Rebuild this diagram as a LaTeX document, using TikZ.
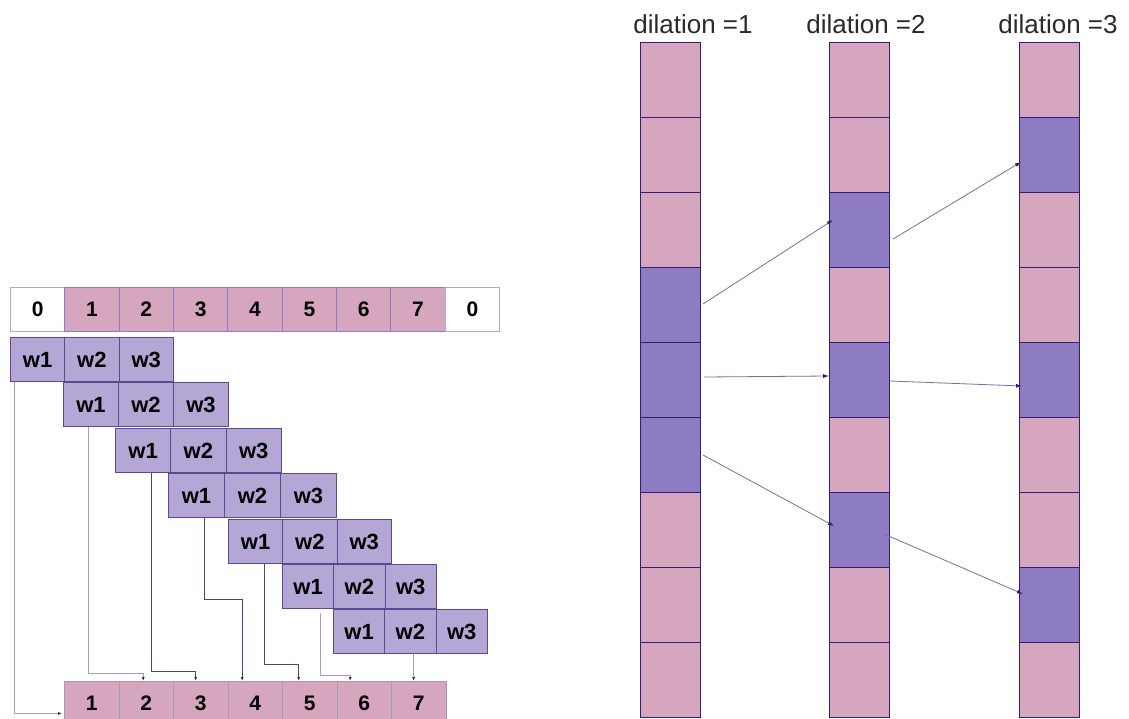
\documentclass[tikz,border=0pt]{standalone}
\usepackage{fontspec}
\setmainfont{Liberation Sans}
\usetikzlibrary{arrows.meta}
\definecolor{pinkc}{HTML}{D5A6BD}
\definecolor{lpur}{HTML}{B4A7D6}
\definecolor{mpur}{HTML}{8E7CC3}
\definecolor{dpur}{HTML}{351C75}
\definecolor{gline}{HTML}{A0A0A0}
\definecolor{txtg}{HTML}{2A2A2A}
\begin{document}
\begin{tikzpicture}[x=1pt,y=-1pt,
  cellbase/.style={inner sep=0pt, anchor=north west, line width=0.9pt},
  topcell/.style={cellbase, draw=mpur, fill=pinkc, minimum width=54.35pt, minimum height=44pt, font=\fontsize{21}{21}\selectfont\bfseries},
  zerocell/.style={topcell, fill=white, draw=lpur},
  wcell/.style={cellbase, draw=dpur!80, fill=lpur, minimum height=44pt, font=\fontsize{22}{22}\selectfont\bfseries},
  bcell/.style={cellbase, draw=gline, fill=pinkc, minimum width=54.5pt, minimum height=44pt, font=\fontsize{21}{21}\selectfont\bfseries},
  colcell/.style={cellbase, draw=dpur, line width=1pt, minimum width=60pt, minimum height=75pt},
  dlabel/.style={font=\fontsize{26}{26}\selectfont, text=txtg, inner sep=0pt},
  lconn/.style={draw=lpur!90!dpur, line width=0.8pt, -{Latex[length=4pt,width=3pt,color=dpur]}},
  dconn/.style={draw=dpur!85, line width=0.8pt, -{Latex[length=4pt,width=3pt,color=dpur]}},
  rarrow/.style={draw=dpur!65, line width=0.8pt, -{Latex[length=6pt,width=4pt,color=dpur]}}
]
\useasboundingbox (0,0) rectangle (1129,719);
\fill[white] (0,0) rectangle (1129,719);

% ---------- left: padded input row ----------
\node[zerocell] (t0) at (10,287) {0};
\foreach \i in {1,...,7} {
  \node[topcell] (t\i) at ({10+54.35*\i},287) {\i};
}
\node[zerocell] (t8) at ({10+54.35*8},287) {0};

% ---------- kernel rows ----------
\foreach \r/\xl/\cw/\yt in {1/10/54.3/337, 2/63/55/382, 3/115/55.3/428, 4/168/56/473, 5/228/54.3/519, 6/282/51.3/564, 7/333/51.3/609} {
  \foreach \c in {1,2,3} {
    \node[wcell, minimum width=\cw pt] (r\r-\c) at ({\xl+(\c-1)*\cw},\yt) {w\c};
  }
}

% ---------- output row ----------
\foreach \i in {1,...,7} {
  \node[bcell] (b\i) at ({64+54.5*(\i-1)},681) {\i};
}

% ---------- left connectors ----------
\draw[lconn] ([xshift=4pt]r1-1.south west) |- ([xshift=-2pt,yshift=-10pt]b1.west);
\draw[lconn] ([xshift=-2.5pt]r2-1.south) |- ([xshift=-3pt,yshift=8pt]b2.north) -- ([xshift=-3pt]b2.north);
\draw[dconn] ([xshift=8.3pt]r3-1.south) |- ([xshift=-5pt,yshift=10pt]b3.north) -- ([xshift=-5pt]b3.north);
\draw[dconn] ([xshift=8pt]r4-1.south) |- ([xshift=-13pt,yshift=82pt]b4.north) -- ([xshift=-13pt]b4.north);
\draw[dconn] ([xshift=9pt]r5-1.south) |- ([xshift=-11pt,yshift=17pt]b5.north) -- ([xshift=-11pt]b5.north);
\draw[lconn] ([xshift=12pt,yshift=-4pt]r6-1.south) |- ([xshift=-14pt,yshift=6pt]b6.north) -- ([xshift=-14pt]b6.north);
\draw[lconn] ([xshift=3pt]r7-2.south) -- ([xshift=-5pt]b7.north);

% ---------- right: dilation columns ----------
\foreach \k/\f in {0/pinkc,1/pinkc,2/pinkc,3/mpur,4/mpur,5/mpur,6/pinkc,7/pinkc,8/pinkc} {
  \node[colcell, fill=\f] (a\k) at (640,{42+75*\k}) {};
}
\foreach \k/\f in {0/pinkc,1/pinkc,2/mpur,3/pinkc,4/mpur,5/pinkc,6/mpur,7/pinkc,8/pinkc} {
  \node[colcell, fill=\f] (m\k) at (829,{42+75*\k}) {};
}
\foreach \k/\f in {0/pinkc,1/mpur,2/pinkc,3/pinkc,4/mpur,5/pinkc,6/pinkc,7/mpur,8/pinkc} {
  \node[colcell, fill=\f] (c\k) at (1019,{42+75*\k}) {};
}

\node[dlabel] (L1) at (693,24) {dilation =1};
\node[dlabel] (L2) at (866,24) {dilation =2};
\node[dlabel] (L3) at (1058,24) {dilation =3};

% ---------- right arrows ----------
\draw[rarrow] ([xshift=2pt,yshift=1pt]a3.east) -- ([xshift=4pt,yshift=10pt]m2.west);
\draw[rarrow] ([xshift=3pt,yshift=3pt]a4.east) -- ([yshift=4pt]m4.west);
\draw[rarrow] ([xshift=2pt]a5.east) -- ([xshift=5pt,yshift=4pt]m6.west);
\draw[rarrow] ([xshift=3pt,yshift=-9pt]m2.east) -- ([xshift=2pt,yshift=-7pt]c1.west);
\draw[rarrow] ([yshift=-1pt]m4.east) -- ([xshift=3pt,yshift=-6pt]c4.west);
\draw[rarrow] ([xshift=-6pt,yshift=-4pt]m6.east) -- ([xshift=4pt,yshift=11pt]c7.west);
\end{tikzpicture}
\end{document}
